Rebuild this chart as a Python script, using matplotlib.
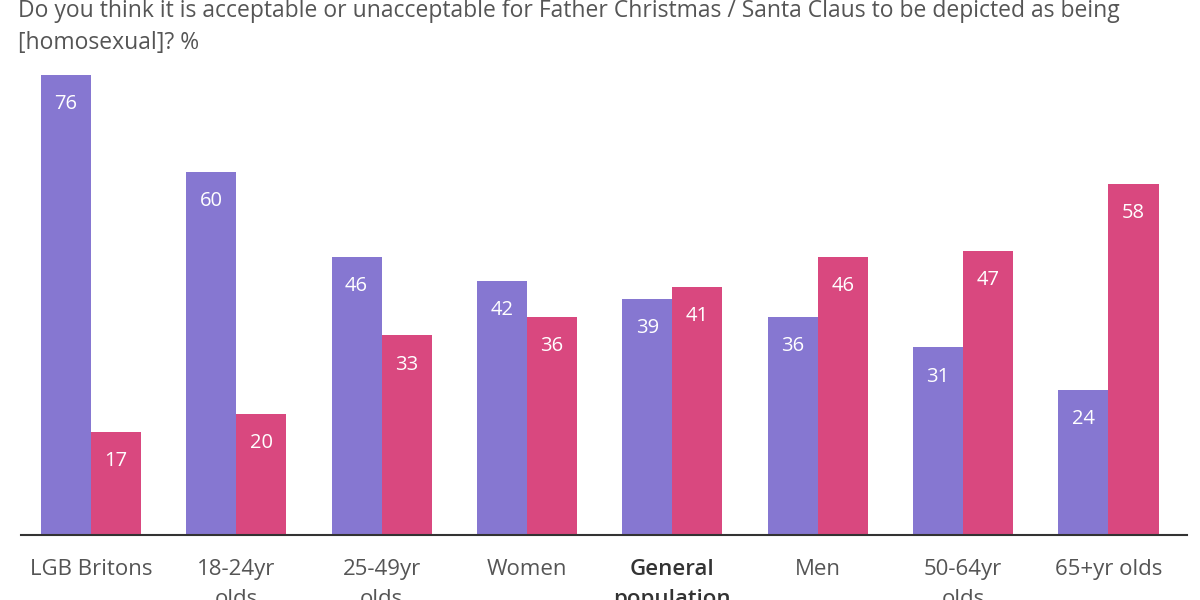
import matplotlib.pyplot as plt
import numpy as np

groups = ['LGB Britons', '18-24yr\nolds', '25-49yr\nolds', 'Women',
          'General\npopulation', 'Men', '50-64yr\nolds', '65+yr olds']
acceptable = [76, 60, 46, 42, 39, 36, 31, 24]
unacceptable = [17, 20, 33, 36, 41, 46, 47, 58]

title = ('Do you think it is acceptable or unacceptable for Father Christmas / Santa Claus to be depicted as being\n'
         '[homosexual]? %')

purple = '#8677d1'
pink = '#d9487f'
text_col = '#555555'

plt.rcParams['font.family'] = ['Open Sans', 'DejaVu Sans']

fig = plt.figure(figsize=(12, 6), dpi=100)
# axes placed in pixel terms: baseline at y=535, left 21, right 1187
ax = fig.add_axes([21 / 1200, 65 / 600, 1166 / 1200, 484 / 600])

x = np.arange(len(groups))
w = 0.344
b1 = ax.bar(x - w / 2, acceptable, w, color=purple)
b2 = ax.bar(x + w / 2, unacceptable, w, color=pink)

for bars, vals in ((b1, acceptable), (b2, unacceptable)):
    for bar, v in zip(bars, vals):
        ax.annotate(str(v), (bar.get_x() + bar.get_width() / 2, v),
                    xytext=(0, -21), textcoords='offset points',
                    ha='center', va='center', color='white', fontsize=14.5)

ax.set_xlim(-0.48, 7.54)
ax.set_ylim(0, 80)
for s in ['top', 'right', 'left']:
    ax.spines[s].set_visible(False)
ax.spines['bottom'].set_color('#333333')
ax.spines['bottom'].set_linewidth(1.5)
ax.set_yticks([])
ax.set_xticks(x)
ax.set_xticklabels(groups, fontsize=16, color=text_col, linespacing=1.6)
ax.tick_params(axis='x', length=0, pad=17)
for lbl in ax.get_xticklabels():
    if lbl.get_text().startswith('General'):
        lbl.set_fontweight('semibold')
        lbl.set_color('#333333')

fig.text(18 / 1200, 1 - 27 / 600, title, fontsize=16.5, color=text_col,
         ha='left', va='center', linespacing=1.45)

fig.savefig('out.png', dpi=100)
